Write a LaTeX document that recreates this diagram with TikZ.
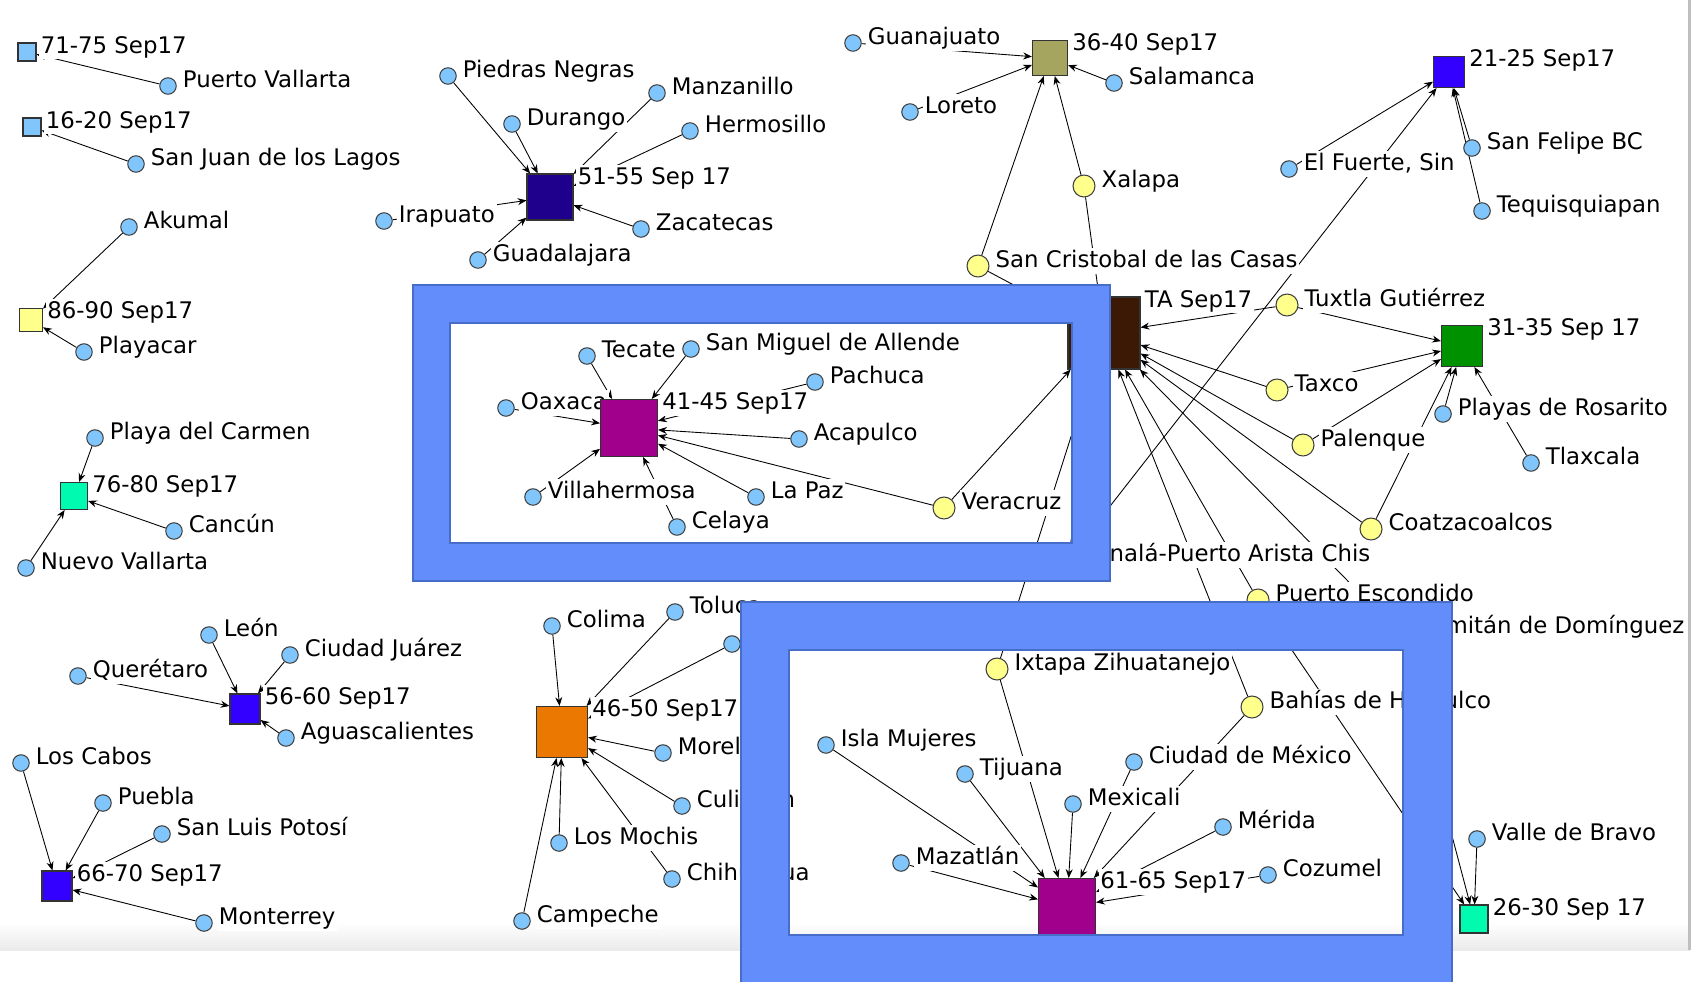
\documentclass[tikz,border=0pt]{standalone}
\usepackage{fontspec}
\setmainfont{DejaVu Sans}
\usetikzlibrary{arrows.meta,backgrounds}
\definecolor{cblue}{RGB}{128,198,252}
\definecolor{cyel}{RGB}{255,255,140}
\definecolor{cmint}{RGB}{0,250,175}
\definecolor{cviolet}{RGB}{51,0,255}
\definecolor{cindigo}{RGB}{31,0,140}
\definecolor{corange}{RGB}{235,120,0}
\definecolor{cmagenta}{RGB}{160,0,140}
\definecolor{colive}{RGB}{165,165,95}
\definecolor{cbrown}{RGB}{60,25,5}
\definecolor{cgreen}{RGB}{0,145,0}
\definecolor{fblue}{RGB}{99,141,250}
\definecolor{fedge}{RGB}{70,110,200}
\begin{document}
\begin{tikzpicture}[x=0.02cm,y=-0.02cm,>={Stealth[length=5pt,width=4pt]},
  lab/.style={fill=white,inner sep=1pt,text height=10pt,text depth=2.5pt,font=\fontsize{13}{15}\selectfont},
  city lab/.style={lab,xshift=0.08cm,yshift=0.1cm},
  ev lab/.style={lab,anchor=west,xshift=0.045cm,yshift=-0.08cm},
  place/.style={circle,draw=black!75,line width=0.6pt,fill=cblue,inner sep=0pt,minimum size=0.33cm},
  city node/.style={place,label={[city lab]right:#1}},
  multi node/.style={city node={#1},fill=cyel,minimum size=0.44cm},
  event node/.style={rectangle,draw=black!80,line width=0.6pt,inner sep=0pt,label={[ev lab]north east:#1}},
  band/.style={fill=fblue,draw=fedge,line width=1.2pt,even odd rule}]
  \useasboundingbox (0,0) rectangle (1700,981);

  % places
  \node[city node=Puerto Vallarta] (16) at (168,86) {};
  \node[city node=San Juan de los Lagos] (17) at (136,164) {};
  \node[city node=Akumal] (18) at (129,227) {};
  \node[city node=Playacar] (19) at (84,352) {};
  \node[city node=Playa del Carmen] (20) at (95,438) {};
  \node[city node=Cancún] (21) at (174,531) {};
  \node[city node=Nuevo Vallarta] (22) at (26,568) {};
  \node[city node=León] (23) at (209,635) {};
  \node[city node=Ciudad Juárez] (24) at (290,655) {};
  \node[city node=Querétaro] (25) at (78,676) {};
  \node[city node=Aguascalientes] (26) at (286,738) {};
  \node[city node=Los Cabos] (27) at (21,763) {};
  \node[city node=Puebla] (28) at (103,803) {};
  \node[city node=San Luis Potosí] (29) at (162,834) {};
  \node[city node=Monterrey] (30) at (204,923) {};
  \node[city node=Piedras Negras] (31) at (448,76) {};
  \node[city node=Manzanillo] (32) at (657,93) {};
  \node[city node=Durango] (33) at (512,124) {};
  \node[city node=Hermosillo] (34) at (690,131) {};
  \node[city node=Irapuato] (35) at (384,221) {};
  \node[city node=Zacatecas] (36) at (641,229) {};
  \node[city node=Guadalajara] (37) at (478,260) {};
  \node[city node=Guanajuato] (38) at (853,43) {};
  \node[city node=Salamanca] (39) at (1114,83) {};
  \node[city node=Loreto] (40) at (910,112) {};
  \node[city node={El Fuerte, Sin}] (41) at (1289,169) {};
  \node[city node=San Felipe BC] (42) at (1472,148) {};
  \node[city node=Tequisquiapan] (43) at (1482,211) {};
  \node[city node=Playas de Rosarito] (44) at (1443,414) {};
  \node[city node=Tlaxcala] (45) at (1531,463) {};
  \node[city node=Colima] (46) at (552,626) {};
  \node[city node=Toluca] (47) at (675,612) {};
  \node[place] (48) at (732,644) {};
  \node[city node=Morelia] (49) at (663,753) {};
  \node[city node=Culiacán] (50) at (682,806) {};
  \node[city node=Los Mochis] (51) at (559,843) {};
  \node[city node=Chihuahua] (52) at (672,879) {};
  \node[city node=Campeche] (53) at (522,921) {};
  \node[city node=Tecate] (54) at (587,356) {};
  \node[city node=San Miguel de Allende] (55) at (691,349) {};
  \node[city node=Pachuca] (56) at (815,382) {};
  \node[city node=Oaxaca] (57) at (506,408) {};
  \node[city node=Acapulco] (58) at (799,439) {};
  \node[city node=Villahermosa] (59) at (533,497) {};
  \node[city node=La Paz] (60) at (756,497) {};
  \node[city node=Celaya] (61) at (677,527) {};
  \node[city node=Isla Mujeres] (62) at (826,745) {};
  \node[city node=Tijuana] (63) at (965,774) {};
  \node[city node=Ciudad de México] (64) at (1134,762) {};
  \node[city node=Mexicali] (65) at (1073,804) {};
  \node[city node=Mérida] (66) at (1223,827) {};
  \node[city node=Mazatlán] (67) at (901,863) {};
  \node[city node=Cozumel] (68) at (1268,875) {};
  \node[city node=Valle de Bravo] (69) at (1477,839) {};
  \node[multi node=Xalapa] (70) at (1084,186) {};
  \node[multi node=San Cristobal de las Casas] (71) at (978,266) {};
  \node[multi node=Tuxtla Gutiérrez] (72) at (1287,305) {};
  \node[multi node=Taxco] (73) at (1277,390) {};
  \node[multi node=Palenque] (74) at (1303,445) {};
  \node[multi node=Coatzacoalcos] (75) at (1371,529) {};
  \node[multi node=Veracruz] (76) at (944,508) {};
  \node[multi node=Tonalá-Puerto Arista Chis] (77) at (1068,560) {};
  \node[multi node=Puerto Escondido] (78) at (1258,600) {};
  \node[multi node=Comitán de Domínguez] (79) at (1398,632) {};
  \node[multi node=Ixtapa Zihuatanejo] (80) at (997,669) {};
  \node[multi node=Bahías de Huatulco] (81) at (1252,707) {};

  % events
  \node[event node=71-75 Sep17,fill=cblue,minimum size=0.36cm] (1) at (27,52) {};
  \node[event node=16-20 Sep17,fill=cblue,minimum size=0.36cm] (2) at (32,127) {};
  \node[event node=86-90 Sep17,fill=cyel,minimum size=0.46cm] (3) at (31,320) {};
  \node[event node=76-80 Sep17,fill=cmint,minimum size=0.54cm] (4) at (74,496) {};
  \node[event node=56-60 Sep17,fill=cviolet,minimum size=0.6cm] (5) at (245,709) {};
  \node[event node=66-70 Sep17,fill=cviolet,minimum size=0.6cm] (6) at (57,886) {};
  \node[event node=51-55 Sep 17,fill=cindigo,minimum size=0.92cm] (7) at (550,197) {};
  \node[event node=46-50 Sep17,fill=corange,minimum size=1.02cm] (8) at (562,732) {};
  \node[event node=41-45 Sep17,fill=cmagenta,minimum size=1.14cm] (9) at (629,428) {};
  \node[event node=36-40 Sep17,fill=colive,minimum size=0.7cm] (10) at (1050,58) {};
  \node[event node=21-25 Sep17,fill=cviolet,minimum size=0.62cm] (11) at (1449,72) {};
  \node[event node=TA Sep17,fill=cbrown,minimum size=1.44cm] (12) at (1104,333) {};
  \node[event node=31-35 Sep 17,fill=cgreen,minimum size=0.82cm] (13) at (1462,346) {};
  \node[event node=26-30 Sep 17,fill=cmint,minimum size=0.56cm] (14) at (1474,919) {};
  \node[event node=61-65 Sep17,fill=cmagenta,minimum size=1.14cm] (15) at (1067,907) {};

  \begin{pgfonlayer}{background}
    \fill[white] (0,0) rectangle (1700,981);
    \shade[top color=white,bottom color=black!8] (0,922) rectangle (1690,950);
    \fill[black!25] (1688,0) rectangle (1691,950);
    \path[->,line width=0.5pt]
      (16) edge (1)
      (17) edge (2)
      (18) edge (3) (19) edge (3)
      (20) edge (4) (21) edge (4) (22) edge (4)
      (23) edge (5) (24) edge (5) (25) edge (5) (26) edge (5)
      (27) edge (6) (28) edge (6) (29) edge (6) (30) edge (6)
      (31) edge (7) (32) edge (7) (33) edge (7) (34) edge (7)
      (35) edge (7) (36) edge (7) (37) edge (7)
      (46) edge (8) (47) edge (8) (48) edge (8) (49) edge (8)
      (50) edge (8) (51) edge (8) (52) edge (8) (53) edge (8)
      (54) edge (9) (55) edge (9) (56) edge (9) (57) edge (9) (58) edge (9)
      (59) edge (9) (60) edge (9) (61) edge (9) (76) edge (9)
      (38) edge (10) (39) edge (10) (40) edge (10) (70) edge (10) (71) edge (10)
      (41) edge (11) (42) edge (11) (43) edge (11) (77) edge (11)
      (70) edge (12) (71) edge (12) (72) edge (12) (73) edge (12)
      (74) edge (12) (75) edge (12) (76) edge (12) (77) edge (12)
      (78) edge (12) (79) edge (12) (80) edge (12) (81) edge (12)
      (72) edge (13) (73) edge (13) (74) edge (13) (75) edge (13)
      (44) edge (13) (45) edge (13)
      (69) edge (14) (78) edge (14) (79) edge (14)
      (62) edge (15) (63) edge (15) (64) edge (15) (65) edge (15) (66) edge (15)
      (67) edge (15) (68) edge (15) (80) edge (15) (81) edge (15);
  \end{pgfonlayer}

  % highlight frames
  \path[band] (413,285) rectangle (1110,581) (450,323) rectangle (1072,543);
  \path[band] (741,602) rectangle (1452,995) (789,650) rectangle (1403,935);
\end{tikzpicture}
\end{document}
